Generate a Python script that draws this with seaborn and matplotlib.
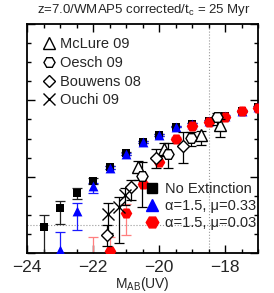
import matplotlib
matplotlib.use("Agg")
import matplotlib.pyplot as plt
from matplotlib.lines import Line2D
from matplotlib.ticker import MultipleLocator
import numpy as np
import pandas as pd
import seaborn as sns

# model luminosity functions (log phi, arbitrary units)
mag_noext = [-23.5, -23.0, -22.5, -22.0, -21.5, -21.0, -20.5, -20.0, -19.5, -19.0, -18.5, -18.0, -17.5, -17.0]
phi_noext = [-5.31, -4.83, -4.44, -4.11, -3.75, -3.39, -3.10, -2.90, -2.69, -2.62, -2.54, -2.42, -2.28, -2.18]
up_noext = [0.31, 0.20, 0.15, 0.07, 0.04, 0.03, 0.03, 0.03, 0.02, 0.02, 0.02, 0.02, 0.02, 0.02]
lo_noext = [1.00, 0.41, 0.15, 0.08, 0.04, 0.03, 0.03, 0.03, 0.02, 0.02, 0.02, 0.02, 0.02, 0.02]

mag_a033 = [-23.0, -22.5, -22.0, -21.5, -21.0, -20.5, -20.0, -19.5, -19.0, -18.5, -18.0, -17.5, -17.0]
phi_a033 = [-5.92, -4.90, -4.24, -3.77, -3.41, -3.10, -2.90, -2.69, -2.62, -2.54, -2.41, -2.28, -2.17]
up_a033 = [0.47, 0.21, 0.07, 0.04, 0.03, 0.03, 0.03, 0.02, 0.02, 0.02, 0.02, 0.02, 0.02]
lo_a033 = [1.00, 0.50, 0.18, 0.04, 0.03, 0.03, 0.03, 0.02, 0.02, 0.02, 0.02, 0.02, 0.02]

mag_a003 = [-22.0, -21.5, -21.0, -20.5, -20.0, -19.5, -19.0, -18.5, -18.0, -17.5, -17.0]
phi_a003 = [-6.30, -5.95, -4.96, -4.20, -3.61, -3.00, -2.66, -2.58, -2.44, -2.27, -2.19]
up_a003 = [0.73, 0.38, 0.24, 0.05, 0.03, 0.03, 0.02, 0.02, 0.02, 0.02, 0.02]
lo_a003 = [1.00, 1.00, 0.57, 0.05, 0.03, 0.03, 0.02, 0.02, 0.02, 0.02, 0.02]

# observations
mag_mclure = [-20.63, -19.85, -18.73, -18.14]
phi_mclure = [-3.75, -3.28, -2.90, -2.65]
up_mclure = [0.16, 0.17, 0.10, 0.16]
lo_mclure = [0.34, 0.18, 0.27, 0.32]

mag_oesch = [-20.52, -19.72, -19.03, -18.23]
phi_oesch = [-3.98, -3.41, -2.99, -2.44]
up_oesch = [0.37, 0.30, 0.17, 0.12]
lo_oesch = [0.81, 0.37, 0.20, 0.21]

mag_bouwens = [-21.58, -20.85, -20.09, -19.27]
phi_bouwens = [-5.52, -4.28, -3.51, -3.20]
up_bouwens = [0.25, 0.19, 0.23, 0.38]
lo_bouwens = [0.30, 0.33, 0.27, 0.43]

mag_ouchi = [-21.54, -21.20, -21.03]
phi_ouchi = [-4.98, -4.79, -4.48]
up_ouchi = [0.28, 0.27, 0.18]
lo_ouchi = [0.50, 0.96, 0.26]

sns.set_style("ticks")
plt.rcParams['font.family'] = ['Liberation Sans', 'DejaVu Sans']
plt.rcParams['mathtext.fontset'] = 'custom'
plt.rcParams['mathtext.rm'] = 'Liberation Sans'
plt.rcParams['mathtext.it'] = 'Liberation Sans:italic'
plt.rcParams['axes.unicode_minus'] = True

fig = plt.figure(figsize=(2.74, 2.93), dpi=100)
ax = fig.add_axes([27/274, 40/293, 231/274, 229/293])

ax.axvline(-18.5, color='#999999', ls=':', lw=0.8, zorder=0)
ax.axhline(-5.27, color='#999999', ls=':', lw=0.8, zorder=0)

# model error bars + markers
ax.errorbar(mag_noext, phi_noext, yerr=[lo_noext, up_noext], fmt='none',
            ecolor='#222222', elinewidth=0.9, capsize=3.5, capthick=0.9, zorder=2)
sns.scatterplot(x=mag_noext, y=phi_noext, marker='s', color='black', s=38,
                edgecolor='black', linewidth=0, ax=ax, zorder=3)
ax.errorbar(mag_a033, phi_a033, yerr=[lo_a033, up_a033], fmt='none',
            ecolor='#1a1aff', elinewidth=0.9, capsize=3.5, capthick=0.9, zorder=2)
sns.scatterplot(x=mag_a033, y=phi_a033, marker='^', color='#0000ff', s=50,
                linewidth=0, ax=ax, zorder=4)
ax.errorbar(mag_a003, phi_a003, yerr=[lo_a003, up_a003], fmt='none',
            ecolor='#ff7f7f', elinewidth=0.9, capsize=3.5, capthick=0.9, zorder=2)
sns.scatterplot(x=mag_a003, y=phi_a003, marker='H', color='#ff0000', s=70,
                linewidth=0, ax=ax, zorder=5)

# observational data
obs = [
    (mag_mclure, phi_mclure, lo_mclure, up_mclure, '^', 'McLure 09'),
    (mag_oesch, phi_oesch, lo_oesch, up_oesch, 'H', 'Oesch 09'),
    (mag_bouwens, phi_bouwens, lo_bouwens, up_bouwens, 'D', 'Bouwens 08'),
    (mag_ouchi, phi_ouchi, lo_ouchi, up_ouchi, 'x', 'Ouchi 09'),
]
for m, p, lo, up, mk, lab in obs:
    ax.errorbar(m, p, yerr=[lo, up], fmt='none', ecolor='black',
                elinewidth=0.9, capsize=3.5, capthick=0.9, zorder=6)
    ax.plot(m, p, ls='none', marker=mk, ms=6.5 if mk == 'D' else 8,
            mfc='white' if mk != 'x' else 'black', mec='black', mew=1.0, zorder=7)

ax.set_xlim(-24, -17)
ax.set_ylim(-6, 0)
ax.xaxis.set_major_locator(MultipleLocator(2))
ax.xaxis.set_minor_locator(MultipleLocator(0.5))
ax.yaxis.set_major_locator(MultipleLocator(2))
ax.yaxis.set_minor_locator(MultipleLocator(0.5))
ax.tick_params(which='both', direction='in', top=True, right=True, width=1.0, color='black')
ax.tick_params(which='major', length=5.5, labelsize=12.5, pad=5)
ax.tick_params(which='minor', length=3)
ax.tick_params(axis='y', labelleft=False)
for s in ax.spines.values():
    s.set_linewidth(1.3)
    s.set_color('black')

ax.set_xlabel(r'M$_{\rm AB}$(UV)', fontsize=10, labelpad=0)
fig.text(0.524, 1 - 10/293, r'z=7.0/WMAP5 corrected/t$_{\rm c}$ = 25 Myr',
         ha='center', va='center', fontsize=9.5)

h1 = [Line2D([], [], ls='none', marker=mk, ms=(6.5 if mk == 'D' else 8),
             mfc='white' if mk != 'x' else 'black', mec='black', mew=1.0, label=lab)
      for _, _, _, _, mk, lab in obs]
leg1 = ax.legend(handles=h1, loc='upper left', bbox_to_anchor=(0.065, 0.943),
                 frameon=False, borderpad=0, borderaxespad=0, handlelength=1.0,
                 handletextpad=0.2, labelspacing=0.33, fontsize=10.5)
ax.add_artist(leg1)

h2 = [Line2D([], [], ls='none', marker='s', ms=6.5, color='black', label='No Extinction'),
      Line2D([], [], ls='none', marker='^', ms=8, color='#0000ff', label='\u03b1=1.5, \u03bc=0.33'),
      Line2D([], [], ls='none', marker='H', ms=9, color='#ff0000', label='\u03b1=1.5, \u03bc=0.03')]
ax.legend(handles=h2, loc='upper left', bbox_to_anchor=(0.511, 0.31),
          frameon=False, borderpad=0, borderaxespad=0, handlelength=1.0,
          handletextpad=0.4, labelspacing=0.22, fontsize=10.5)

fig.savefig('out.png', dpi=100)
